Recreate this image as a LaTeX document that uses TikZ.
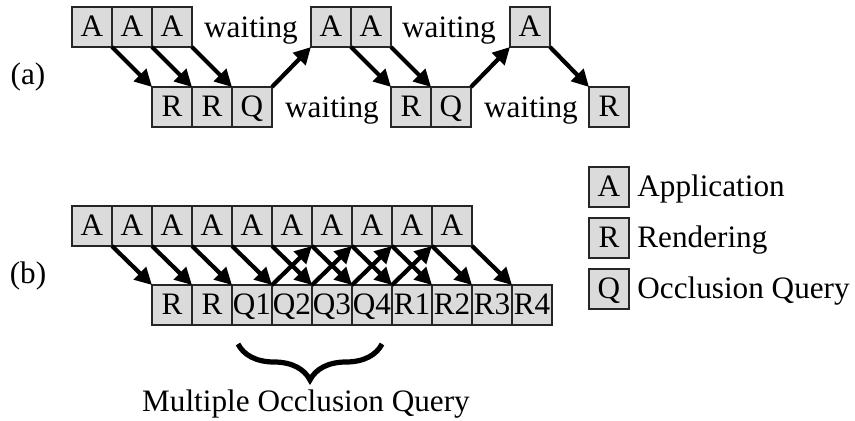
\documentclass[tikz,border=0pt]{standalone}
\usepackage{fontspec}
\setmainfont{Liberation Serif}
\usepackage{tikz}
\usetikzlibrary{positioning,arrows.meta,decorations.pathreplacing}

\begin{document}
\begin{tikzpicture}[
		x=0.5pt,y=-0.5pt,
		font=\fontsize{15.6}{18}\selectfont,
		stage/.style={draw=black!85,line width=0.55pt,fill=black!14,minimum width=20pt,minimum height=20pt,
			inner sep=0pt,outer sep=0pt,text height=9.8pt,text depth=0pt},
		flow/.style={-{Triangle[length=8.5pt,width=8.5pt]},line width=2.1pt},
		label text/.style={inner sep=0pt}
	]
		\useasboundingbox (0,0) rectangle (855,421);

		% (a) one occlusion query at a time: the application waits for it.
		\node[label text] (tagA) at (28,77) {(a)};
		\foreach \n/\x in {1/92,2/132,3/172,4/331,5/371,6/530}
			\node[stage] (ta\n) at (\x,27) {A};
		\foreach \n/\x/\t in {r1/172/R,r2/212/R,q1/252/Q,r3/411/R,q2/451/Q,r4/609/R}
			\node[stage] (a\n) at (\x,107) {\t};
		\node[label text,anchor=base] (waitA) at (251,38) {waiting};
		\node[label text,anchor=base] (waitB) at (449,38) {waiting};
		\node[label text,anchor=base] (waitC) at (332,118) {waiting};
		\node[label text,anchor=base] (waitD) at (531,118) {waiting};

		\draw[flow] (ta1.south east) -- (ar1.north west);
		\draw[flow] (ta2.south east) -- (ar2.north west);
		\draw[flow] (ta3.south east) -- (aq1.north west);
		\draw[flow] (aq1.north east) -- (ta4.south west);
		\draw[flow] (ta4.south east) -- (ar3.north west);
		\draw[flow] (ta5.south east) -- (aq2.north west);
		\draw[flow] (aq2.north east) -- (ta6.south west);
		\draw[flow] (ta6.south east) -- (ar4.north west);

		% (b) several queries in flight.
		\node[label text] (tagB) at (28,276) {(b)};
		\foreach \n in {1,...,10}
			\node[stage] (tb\n) at ({92+40*(\n-1)},226) {A};
		\foreach \n/\t in {1/R,2/R,3/Q1,4/Q2,5/Q3,6/Q4,7/R1,8/R2,9/R3,10/R4}
			\node[stage] (bb\n) at ({172+40*(\n-1)},305) {\t};
		\foreach \n in {1,...,10}
			\draw[flow] (tb\n.south east) -- (bb\n.north west);
		\foreach \n [evaluate=\n as \m using int(\n+3)] in {3,...,6}
			\draw[flow] (bb\n.north east) -- (tb\m.south east);

		\draw[line width=2.6pt,decorate,decoration={brace,mirror,amplitude=18pt}]
			(238,344) -- (382,344);
		\node[label text,anchor=base] (multi) at (306,412) {Multiple Occlusion Query};

		% Legend.
		\foreach \n/\y/\t/\s in {app/187/A/Application,ren/238/R/Rendering,occ/289/Q/Occlusion Query}{
			\node[stage] (key\n) at (609,\y) {\t};
			\node[label text,anchor=base west,xshift=4pt] (txt\n) at (key\n.base east) {\s};
		}
	\end{tikzpicture}
\end{document}
